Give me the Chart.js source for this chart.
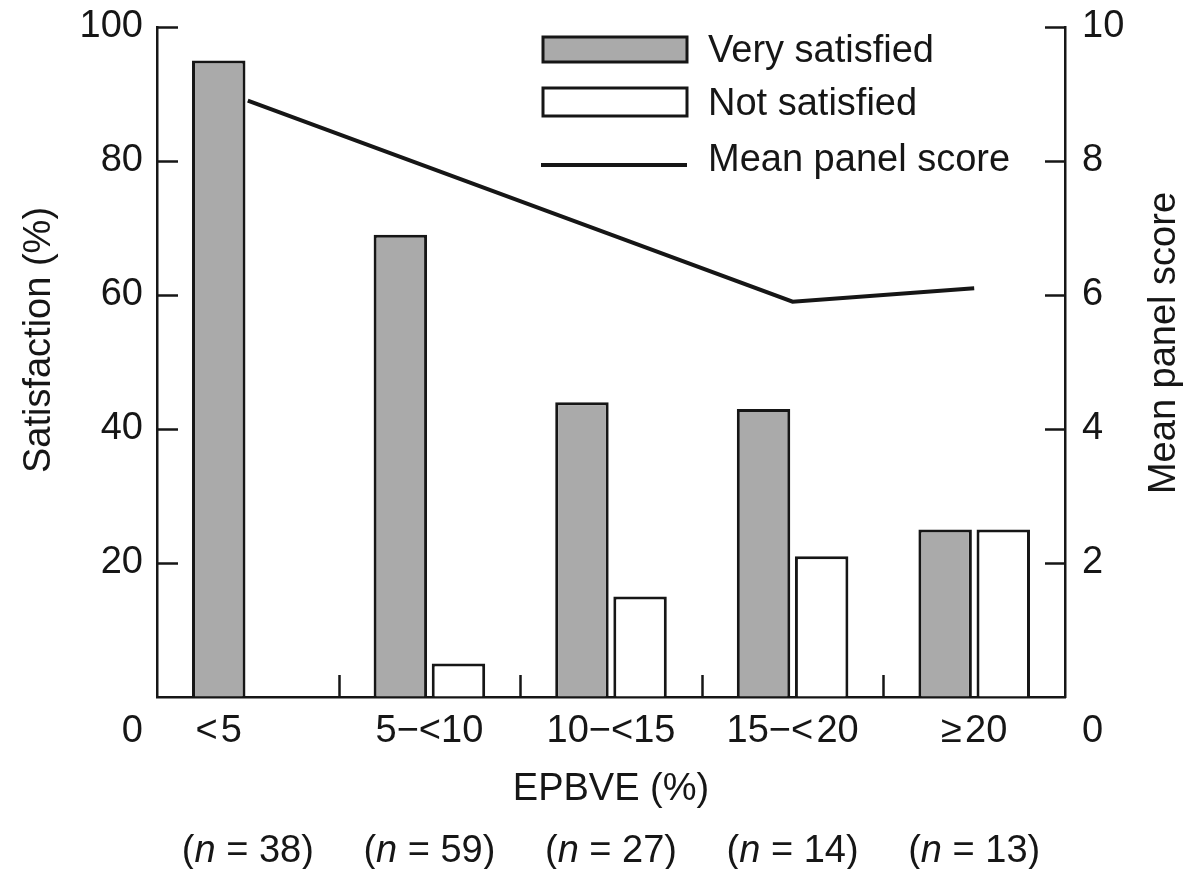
<!DOCTYPE html>
<html>
<head>
<meta charset="utf-8">
<title>Satisfaction by EPBVE</title>
<script src="https://cdn.jsdelivr.net/npm/chart.js@4/dist/chart.umd.min.js"></script>
<style>
  html, body { margin: 0; padding: 0; background: #ffffff; }
  canvas { display: block; }
</style>
</head>
<body>
<canvas id="chart" width="1187" height="869"></canvas>
<script>
// EPBVE groups and their sample sizes
const categories = ['<\u200a5', '5\u2212<10', '10\u2212<15', '15\u2212<\u200a20', '\u2265\u200a20'];
const sampleSizes = [38, 59, 27, 14, 13];

// Satisfaction (%) per group
const verySatisfied = [95, 69, 44, 43, 25];
const notSatisfied = [0, 5, 15, 21, 25];

// Mean panel score (0-10) per group
const meanPanelScore = [8.9, 7.9, 6.9, 5.9, 6.1];

// Axis ticks
const satisfactionTicks = [0, 20, 40, 60, 80, 100];
const scoreTicks = [0, 2, 4, 6, 8, 10];

const FONT = '"Liberation Sans", Arial, Helvetica, sans-serif';
const FONT_SIZE = 38;
const INK = '#161616';
const GRAY = '#aaaaaa';

// Draws inward tick marks, bottom labels, sample sizes, axis titles and the legend
const decorations = {
  id: 'decorations',
  afterDraw(chart) {
    const ctx = chart.ctx;
    const xs = chart.scales.x, ys = chart.scales.y, ys2 = chart.scales.y2;
    const area = chart.chartArea;
    ctx.save();
    ctx.strokeStyle = INK;
    ctx.lineWidth = 2.5;
    ctx.lineCap = 'butt';

    // inward ticks on the left axis
    ys.ticks.forEach(t => {
      if (t.value === 0) return;
      const py = Math.round(ys.getPixelForValue(t.value)) + 0.5;
      ctx.beginPath(); ctx.moveTo(area.left, py); ctx.lineTo(area.left + 21, py); ctx.stroke();
    });
    // inward ticks on the right axis
    ys2.ticks.forEach(t => {
      if (t.value === 0) return;
      const py = Math.round(ys2.getPixelForValue(t.value)) + 0.5;
      ctx.beginPath(); ctx.moveTo(area.right, py); ctx.lineTo(area.right - 20, py); ctx.stroke();
    });
    // inward ticks between categories on the x axis
    for (let i = 0; i < categories.length - 1; i++) {
      const px = Math.round((xs.getPixelForValue(i) + xs.getPixelForValue(i + 1)) / 2) + 0.5;
      ctx.beginPath(); ctx.moveTo(px, area.bottom); ctx.lineTo(px, area.bottom - 22); ctx.stroke();
    }

    ctx.fillStyle = INK;
    ctx.font = FONT_SIZE + 'px ' + FONT;
    ctx.textBaseline = 'alphabetic';
    const base = area.bottom + 45;

    // zero labels of both value axes, set below the baseline
    ctx.textAlign = 'right';
    ctx.fillText(String(satisfactionTicks[0]), area.left - 14, base);
    ctx.textAlign = 'left';
    ctx.fillText(String(scoreTicks[0]), area.right + 17, base);

    // category labels; a group without "not satisfied" bar is labelled under its single bar
    const meta0 = chart.getDatasetMeta(0);
    ctx.textAlign = 'center';
    categories.forEach((c, i) => {
      const cx = notSatisfied[i] === 0 ? meta0.data[i].x : xs.getPixelForValue(i);
      ctx.fillText(c, cx, base);
    });

    // x axis title
    ctx.fillText('EPBVE (%)', (area.left + area.right) / 2, 800);

    // sample sizes with italic n
    const upright = FONT_SIZE + 'px ' + FONT;
    const italic = 'italic ' + FONT_SIZE + 'px ' + FONT;
    ctx.textAlign = 'left';
    sampleSizes.forEach((n, i) => {
      const parts = [['(', upright], ['n', italic], [' = ' + n + ')', upright]];
      let total = 0;
      parts.forEach(p => { ctx.font = p[1]; total += ctx.measureText(p[0]).width; });
      let x = xs.getPixelForValue(i) - total / 2;
      parts.forEach(p => { ctx.font = p[1]; ctx.fillText(p[0], x, 862); x += ctx.measureText(p[0]).width; });
    });

    // rotated axis titles
    ctx.font = upright;
    ctx.textAlign = 'center';
    ctx.save();
    ctx.translate(50, 340);
    ctx.rotate(-Math.PI / 2);
    ctx.fillText('Satisfaction (%)', 0, 0);
    ctx.restore();
    ctx.save();
    ctx.translate(1175, 343);
    ctx.rotate(-Math.PI / 2);
    ctx.fillText('Mean panel score', 0, 0);
    ctx.restore();

    // legend inside the plot
    const ds = chart.data.datasets;
    const lx = 543, lw = 144, tx = 708;
    ctx.lineWidth = 3;
    ctx.fillStyle = ds[0].backgroundColor;
    ctx.fillRect(lx, 37, lw, 25);
    ctx.strokeRect(lx, 37, lw, 25);
    ctx.fillStyle = ds[1].backgroundColor;
    ctx.fillRect(lx, 88, lw, 28);
    ctx.strokeRect(lx, 88, lw, 28);
    ctx.lineWidth = ds[2].borderWidth;
    ctx.beginPath(); ctx.moveTo(lx - 2, 165); ctx.lineTo(lx + lw, 165); ctx.stroke();
    ctx.fillStyle = INK;
    ctx.textAlign = 'left';
    ctx.fillText(ds[0].label, tx, 62);
    ctx.fillText(ds[1].label, tx, 115);
    ctx.fillText(ds[2].label, tx, 171);
    ctx.restore();
  }
};

// value axes keep a fixed width and do not push the plot down for their edge labels
function fixVerticalAxis(width) {
  return function (scale) {
    scale.width = width;
    scale.paddingTop = 0;
    scale.paddingBottom = 0;
  };
}

new Chart(document.getElementById('chart'), {
  type: 'bar',
  data: {
    labels: categories,
    datasets: [
      {
        label: 'Very satisfied',
        data: verySatisfied,
        backgroundColor: GRAY,
        borderColor: INK,
        borderWidth: 3,
        yAxisID: 'y',
        order: 2,
        categoryPercentage: 0.64,
        barPercentage: 0.92
      },
      {
        label: 'Not satisfied',
        data: notSatisfied,
        backgroundColor: '#ffffff',
        borderColor: INK,
        borderWidth: 3,
        yAxisID: 'y',
        order: 2,
        categoryPercentage: 0.64,
        barPercentage: 0.92
      },
      {
        type: 'line',
        label: 'Mean panel score',
        data: meanPanelScore,
        borderColor: INK,
        borderWidth: 4,
        pointRadius: 0,
        tension: 0,
        fill: false,
        yAxisID: 'y2',
        order: 1
      }
    ]
  },
  options: {
    responsive: false,
    animation: false,
    layout: { padding: { top: 27, left: 0, right: 0, bottom: 0 } },
    plugins: {
      legend: { display: false },
      tooltip: { enabled: false }
    },
    scales: {
      x: {
        type: 'category',
        offset: true,
        grid: { display: true, offset: true, drawOnChartArea: false, drawTicks: false },
        border: { display: true, color: INK, width: 2.5 },
        ticks: { display: false },
        afterFit(scale) { scale.height = 172; scale.paddingLeft = 0; scale.paddingRight = 0; }
      },
      y: {
        position: 'left',
        min: 0,
        max: 100,
        afterBuildTicks(scale) { scale.ticks = satisfactionTicks.map(v => ({ value: v })); },
        ticks: {
          callback: v => (v === 0 ? '' : String(v)),
          color: INK,
          font: { family: FONT, size: FONT_SIZE },
          padding: 14
        },
        grid: { drawOnChartArea: false, drawTicks: false },
        border: { display: true, color: INK, width: 2.5 },
        afterFit: fixVerticalAxis(157)
      },
      y2: {
        position: 'right',
        min: 0,
        max: 10,
        afterBuildTicks(scale) { scale.ticks = scoreTicks.map(v => ({ value: v })); },
        ticks: {
          callback: v => (v === 0 ? '' : String(v)),
          color: INK,
          font: { family: FONT, size: FONT_SIZE },
          padding: 17
        },
        grid: { drawOnChartArea: false, drawTicks: false },
        border: { display: true, color: INK, width: 2.5 },
        afterFit: fixVerticalAxis(122)
      }
    }
  },
  plugins: [decorations]
});
</script>
</body>
</html>
